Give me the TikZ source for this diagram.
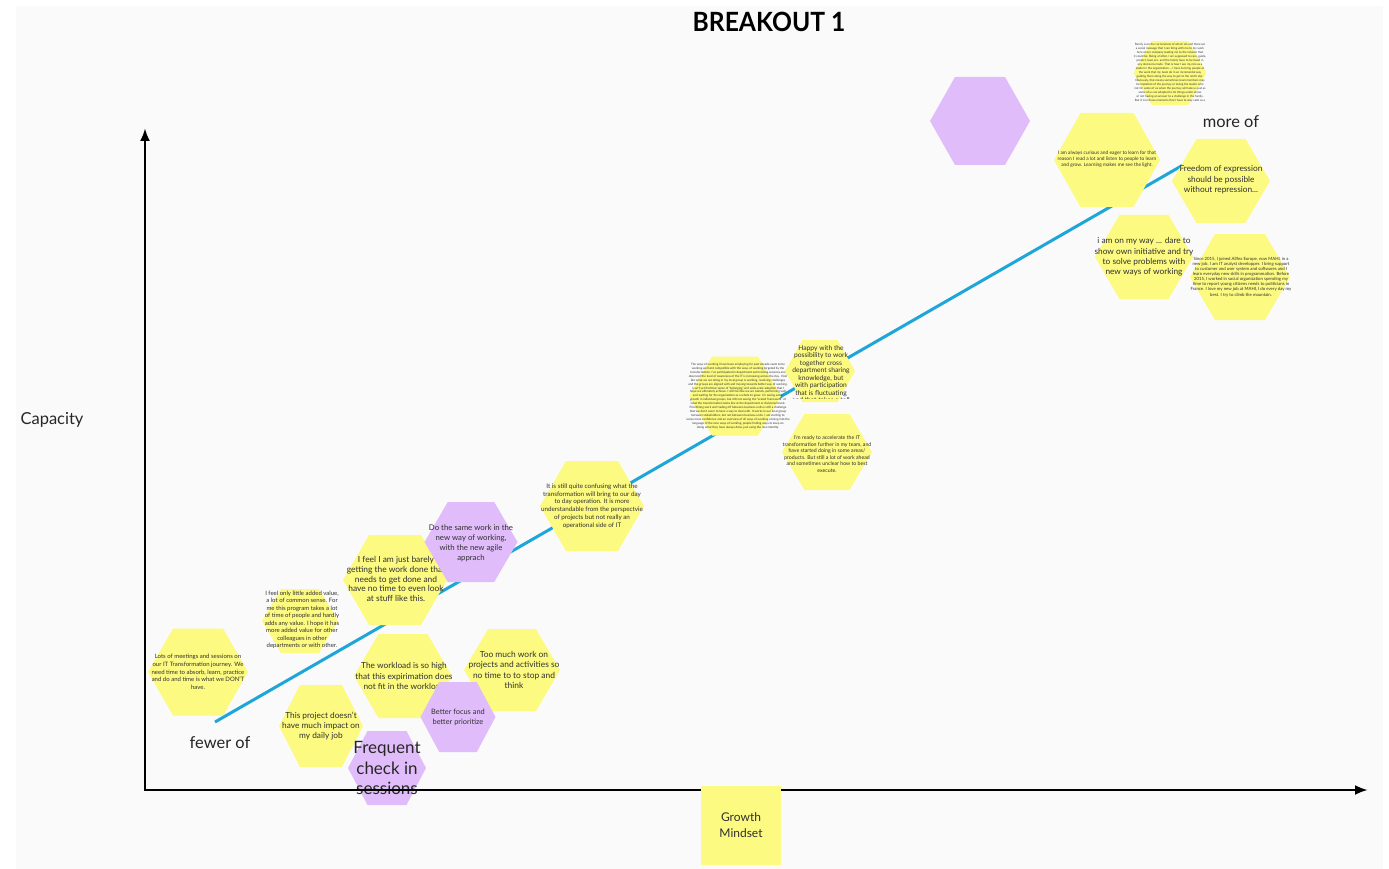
\documentclass[tikz,border=0pt]{standalone}
\usepackage{fontspec}
\setmainfont{Lato}
\usetikzlibrary{arrows.meta}
\definecolor{hexyellow}{RGB}{252,250,128}
\definecolor{hexpurple}{RGB}{224,188,250}
\definecolor{trendblue}{RGB}{30,166,216}
\definecolor{bggray}{RGB}{250,250,250}
\definecolor{inkgray}{RGB}{48,48,48}
\newcommand{\hexpath}[5]{\fill[#5] ({#1-#3/2},{#2}) -- ({#1-#3/4},{#2-#4/2}) -- ({#1+#3/4},{#2-#4/2}) -- ({#1+#3/2},{#2}) -- ({#1+#3/4},{#2+#4/2}) -- ({#1-#3/4},{#2+#4/2}) -- cycle;}
\newcommand{\hexfont}[2]{\fontsize{#1}{#2}\selectfont}
\tikzset{
  hextext/.style={align=center, inner sep=0pt, text=inkgray},
  axisline/.style={line width=2.6pt, black, -{Latex[length=13pt,width=10pt]}},
  trendline/.style={line width=3pt, trendblue},
  bigtext/.style={inner sep=0pt, text=black!85, font=\hexfont{16.4}{19}}
}
\begin{document}
\begin{tikzpicture}[x=1pt,y=-1pt]
\useasboundingbox (0,0) rectangle (1389,869);
\fill[white] (0,0) rectangle (1389,869);
\fill[bggray] (16,6) rectangle (1383,869);

% title
\node (title) [inner sep=0pt, xscale=0.93, font=\bfseries\hexfont{26.5}{30}] at (769,22) {BREAKOUT 1};

% trend line
\coordinate (lineStart) at (215,722);
\coordinate (lineEnd) at (1190,161);
\draw[trendline] (lineStart) -- (lineEnd);

% labels
\node (capacity) [bigtext, font=\hexfont{16.5}{19}] at (52,420) {Capacity};
\node (moreof) [bigtext] at (1231,122) {more of};
\node (fewerof) [bigtext] at (220,743) {fewer of};

% top purple hexagon
\hexpath{980}{121}{100}{88}{hexpurple}

% tiny top-right
\hexpath{1170}{73}{73}{64}{hexyellow}
\node (family) [hextext, font=\hexfont{2.95}{4.0}] at (1170,73) {Family is on the cornerstone of what I do and there we\\a social message that I can bring with me to my work\\here at our company leading me to the mission that\\it could be. Being a father, I am supposed to care, guide,\\protect, lead, etc. and the family have to be loved in\\any decisions made. That is how I see my role as a\\leader in the organization --- I have to bring people at\\the work that my team do in an incremental way\\guiding them along the way to get to the north star.\\Obviously, that means sometimes team members may\\be impatient of the journey or losing the leader who\\not for some of us when the journey will take us just as\\some of us are adapted to do things under stress\\or not having an answer to a challenge in the family.\\But it is in those moments that I have to stay calm as a};

\hexpath{1107}{160}{106}{94}{hexyellow}
\node (curious) [hextext, font=\hexfont{4.85}{6.2}] at (1107,159) {I am always curious and eager to learn for that\\reason I read a lot and listen to people to learn\\and grow. Learning makes me see the light.};

\hexpath{1221}{181}{98}{84}{hexyellow}
\node (freedom) [hextext, font=\hexfont{8.3}{10.5}] at (1221,180) {Freedom of expression\\should be possible\\without repression...};

\hexpath{1144}{257}{98}{84}{hexyellow}
\node (onmyway) [hextext, font=\hexfont{8.3}{10.2}] at (1144,257) {i am on my way ... dare to\\show own initiative and try\\to solve problems with\\new ways of working};

\hexpath{1240}{277}{100}{86}{hexyellow}
\node (since) [hextext, font=\hexfont{4.3}{5.1}] at (1241,277) {Since 2015, I joined Allfex Europe, now MAHI, in a\\new job. I am IT analyst developper. I bring support\\to customer and user system and softwares and I\\learn everyday new skills in programmation. Before\\2015, I worked in social organization spending my\\time to report young citizens needs to politicians in\\France. I love my new job at MAHI, I do every day my\\best. I try to climb the mountain.};

% middle tiny
\hexpath{735}{396}{92}{79}{hexyellow}
\node (ways) [hextext, font=\hexfont{3.0}{3.9}] at (738,396) {The ways of working I have been employing for past decade seem to be\\working well and compatible with the ways of working targeted by the\\transformation. I've participated in department and training sessions and\\observed the level of awareness of the IT is increasing across the day. I feel\\like what we are doing in my local group is working, resolving challenges\\and the groups are aligned with and moving towards better way of working.\\I can't yet find that sense of `belonging' and wide-scale adoption that I\\hope we ultimately achieve. I still feel like we are islands, performing well\\and waiting for the organisation as a whole to grow. I'm seeing some\\growth in individual groups, but still not seeing the ``scaled framework'' of\\what the transformation looks like at the department or divisional levels.\\Prioritizing work and trading off between business units is still a challenge\\that we don't seem to have a way to deal with. It works in our local group\\between stakeholders, but not between business units. I am starting to\\sense more confidence and an overview of all ways of working coming into the\\language of the new ways of working, people finding ways to keep on\\doing what they have always done, just using the new identity.};

\hexpath{820}{371}{70}{62}{hexyellow}
\begin{scope}
\clip (770,330) rectangle (880,398);
\node (happy) [hextext, font=\hexfont{6.7}{7.5}, anchor=north] at (821,345) {Happy with the\\possibility to work\\together cross\\department sharing\\knowledge, but\\with participation\\that is fluctuating\\and that takes a toll};
\end{scope}

\hexpath{827}{452}{90}{76}{hexyellow}
\node (ready) [hextext, font=\hexfont{5.2}{6.6}] at (827,454) {I'm ready to accelerate the IT\\transformation further in my team, and\\have started doing in some areas/\\products. But still a lot of work ahead\\and sometimes unclear how to best\\execute.};

\hexpath{592}{506}{104}{90}{hexyellow}
\node (confusing) [hextext, font=\hexfont{6.3}{7.7}] at (592,506) {It is still quite confusing what the\\transformation will bring to our day\\to day operation. It is more\\understandable from the perspectvie\\of projects but not really an\\operational side of IT};

\hexpath{395}{580}{104}{90}{hexyellow}
\node (barely) [hextext, font=\hexfont{8.4}{9.8}] at (396,579) {I feel I am just barely\\getting the work done that\\needs to get done and\\have no time to even look\\at stuff like this.};

\hexpath{471}{542}{93}{80}{hexpurple}
\node (same) [hextext, font=\hexfont{7.8}{10}] at (471,543) {Do the same work in the\\new way of working,\\with the new agile\\apprach};

\hexpath{300}{621}{76}{64}{hexyellow}
\node (little) [hextext, font=\hexfont{6.0}{7.5}] at (302,620) {I feel only little added value,\\a lot of common sense. For\\me this program takes a lot\\of time of people and hardly\\adds any value. I hope it has\\more added value for other\\colleagues in other\\departments or with other.};

\hexpath{198}{672}{100}{87}{hexyellow}
\node (meetings) [hextext, font=\hexfont{6.0}{7.6}] at (198,672) {Lots of meetings and sessions on\\our IT Transformation journey. We\\need time to absorb, learn, practice\\and do and time is what we DON'T\\have.};

\hexpath{321}{726}{84}{82}{hexyellow}
\node (impact) [hextext, font=\hexfont{8.3}{10.2}] at (321,726) {This project doesn't\\have much impact on\\my daily job};

\hexpath{403}{676}{98}{84}{hexyellow}
\node (workload) [hextext, font=\hexfont{8.3}{10.2}] at (404,676) {The workload is so high\\that this expirimation does\\not fit in the workload};

\hexpath{512}{670}{96}{82}{hexyellow}
\node (toomuch) [hextext, font=\hexfont{8.4}{10.3}] at (514,670) {Too much work on\\projects and activities so\\no time to to stop and\\think};

\hexpath{458}{717}{75}{70}{hexpurple}
\node (focus) [hextext, font=\hexfont{7.4}{10}] at (458,717) {Better focus and\\better prioritize};

\hexpath{387}{768}{78}{74}{hexpurple}
\node (frequent) [hextext, text=black!85, font=\hexfont{17}{20.5}] at (387,768) {Frequent\\check in\\sessions};

% axes
\coordinate (origin) at (145,790);
\coordinate (ytip) at (145,128);
\coordinate (xtip) at (1368,790);
\draw[axisline] (origin) -- (ytip);
\draw[axisline] ([xshift=-1.3pt]origin) -- (xtip);

% growth mindset sticky
\node (growth) [rectangle, fill=hexyellow, minimum width=80pt, minimum height=79pt, inner sep=0pt, align=center, text=inkgray, font=\hexfont{12}{15.5}] at (741,825) {Growth\\Mindset};
\end{tikzpicture}
\end{document}
